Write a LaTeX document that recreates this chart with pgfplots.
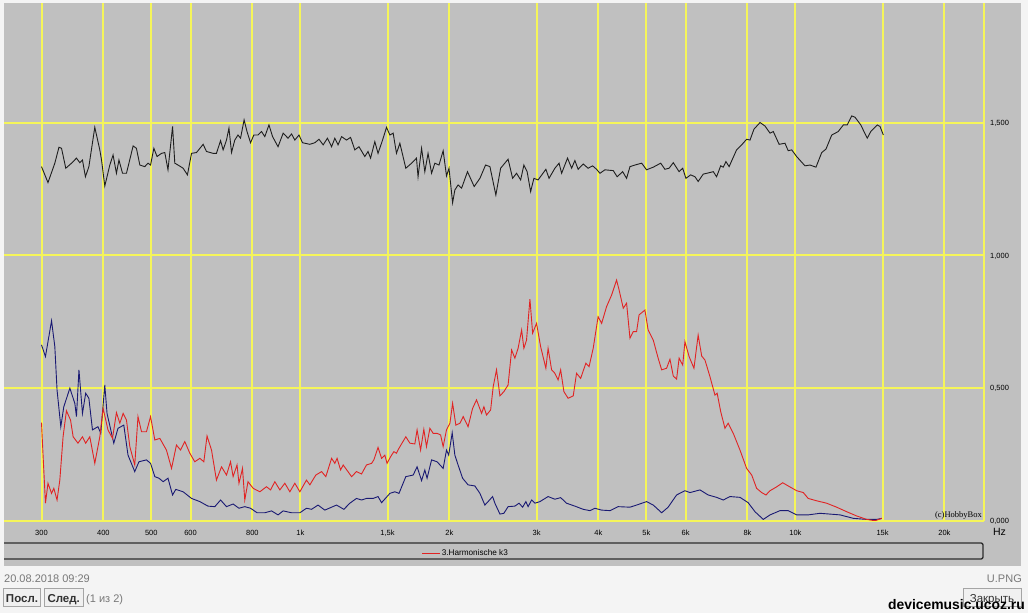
\documentclass[border=0pt]{standalone}
\usepackage{fontspec}
\setmainfont{Liberation Sans}
\newfontfamily\serifm{Liberation Serif}
\usepackage{pgfplots}
\pgfplotsset{compat=1.18}
\usepackage{pgfplotstable}
\definecolor{panel}{RGB}{192,192,192}
\definecolor{footbg}{RGB}{244,244,244}
\definecolor{gridy}{RGB}{245,245,90}
\definecolor{kblack}{RGB}{30,30,30}
\definecolor{kred}{RGB}{225,35,35}
\definecolor{kblue}{RGB}{25,25,115}
\definecolor{darkframe}{RGB}{45,45,45}
\definecolor{foottext}{RGB}{120,120,120}

\pgfplotstableread{
f v
300 1.334
309.2 1.274
319.2 1.347
325.4 1.407
329.3 1.403
335.9 1.328
345.0 1.347
353.0 1.366
358.5 1.349
363.0 1.359
368.0 1.296
374.0 1.334
384.4 1.482
393.5 1.397
396.6 1.359
402.7 1.261
412.2 1.340
418.5 1.378
425.1 1.309
430.1 1.359
437.3 1.309
445.4 1.309
459.4 1.412
466.5 1.403
474.0 1.340
485.0 1.334
492.3 1.347
498.2 1.340
505.9 1.403
513.5 1.372
524.3 1.384
532.3 1.387
540.3 1.322
551.9 1.485
557.7 1.347
566.1 1.340
579.7 1.328
591.4 1.303
602.8 1.384
616.8 1.387
636.3 1.418
646.2 1.391
666.5 1.384
676.9 1.384
690.0 1.432
698.3 1.397
709.2 1.434
717.5 1.479
726.1 1.387
737.2 1.434
748.3 1.453
757.2 1.441
769.8 1.510
780.4 1.466
793.3 1.424
805.4 1.453
821.3 1.453
834.8 1.466
847.6 1.447
864.2 1.491
878.7 1.447
901.4 1.409
923.1 1.460
944.3 1.441
959.9 1.457
974.6 1.434
993.6 1.453
1010 1.424
1045 1.418
1069.6 1.424
1090.5 1.437
1111.9 1.416
1134.3 1.441
1156.3 1.409
1173.9 1.441
1191.6 1.416
1211.3 1.447
1239.3 1.434
1263.0 1.444
1288.2 1.397
1313.4 1.409
1349.6 1.372
1369.9 1.391
1386.2 1.366
1413.9 1.428
1435.2 1.384
1465.7 1.434
1492.7 1.482
1516.5 1.453
1539.8 1.460
1563.8 1.384
1588.7 1.422
1633.2 1.328
1677.6 1.347
1716.3 1.366
1728.8 1.296
1757.4 1.403
1784.2 1.315
1811.1 1.384
1841.1 1.309
1869.3 1.347
1905.8 1.340
1943.2 1.394
1973.4 1.299
1996.6 1.328
2030.1 1.198
2051.5 1.246
2082.4 1.265
2116.9 1.253
2175.7 1.315
2244.3 1.259
2305.1 1.290
2366.4 1.340
2414.9 1.334
2482.5 1.227
2538.2 1.328
2627.8 1.362
2683.8 1.290
2733.1 1.309
2785.8 1.284
2828.2 1.340
2871.0 1.315
2918.5 1.240
2963.0 1.290
3021.5 1.284
3132.7 1.324
3179.4 1.290
3267.0 1.328
3330.8 1.347
3371.0 1.309
3464.7 1.366
3531.6 1.328
3585.5 1.357
3639.5 1.324
3727.3 1.344
3812.9 1.328
3894.1 1.337
3965.6 1.324
4028.8 1.309
4122.7 1.322
4285.6 1.319
4364.1 1.296
4477.3 1.315
4559.6 1.290
4632.2 1.334
4740.1 1.340
4891.1 1.347
5004.2 1.322
5162.2 1.332
5343.6 1.347
5450.1 1.324
5556.6 1.328
5665.6 1.349
5821.3 1.315
5919.2 1.328
6009.2 1.290
6144.0 1.303
6266.5 1.296
6360.8 1.278
6514.3 1.306
6693.3 1.311
6824.5 1.315
6930.7 1.296
7064.3 1.337
7149.5 1.332
7238.2 1.353
7346.0 1.334
7606.6 1.397
7788.9 1.416
7968.9 1.437
8095.8 1.434
8246.4 1.475
8481.4 1.500
8679.0 1.487
8885.3 1.460
9022.1 1.466
9270.0 1.418
9525.5 1.422
9668.8 1.394
9829.0 1.397
10056 1.372
10454 1.337
10703 1.340
11003 1.332
11301 1.387
11526 1.400
11839 1.453
12201 1.466
12496 1.491
12724 1.491
12994 1.525
13192 1.520
13551 1.491
13965 1.441
14196 1.466
14630 1.491
14823 1.485
15051 1.453
}\blackdata

\pgfplotstableread{
f v
300 0.663
305.6 0.619
314.4 0.754
319.2 0.656
322.5 0.493
328.2 0.355
332.8 0.430
342.3 0.500
350.3 0.443
353.0 0.393
357.1 0.569
363.0 0.405
368.5 0.481
374.0 0.462
380.3 0.343
390.1 0.355
395.3 0.330
402.7 0.512
406.9 0.405
419.9 0.293
428.2 0.349
439.9 0.361
448.6 0.248
462.9 0.186
472.0 0.223
488.8 0.230
498.2 0.217
508.2 0.167
518.1 0.161
528.2 0.148
540.3 0.161
551.9 0.098
560.3 0.119
579.7 0.110
602.8 0.085
626.6 0.073
650.8 0.056
671.7 0.054
690.0 0.079
709.2 0.054
731.5 0.064
751.6 0.048
772.3 0.054
793.3 0.048
817.6 0.031
847.6 0.031
874.7 0.038
901.4 0.023
923.1 0.038
959.9 0.031
997.7 0.031
1028.8 0.048
1053.5 0.044
1085.6 0.060
1120.5 0.041
1156.3 0.052
1183.0 0.060
1224.2 0.044
1258.9 0.067
1298.2 0.085
1329.3 0.079
1360.1 0.085
1403.0 0.085
1435.2 0.092
1458.9 0.069
1496.7 0.092
1516.5 0.104
1551.8 0.110
1582.2 0.104
1633.2 0.167
1690.0 0.173
1721.0 0.204
1757.4 0.152
1784.2 0.192
1802.9 0.161
1841.1 0.230
1888.8 0.223
1943.2 0.198
1973.4 0.267
1993.9 0.248
2026.3 0.332
2051.5 0.248
2082.4 0.211
2126.8 0.161
2181.6 0.136
2251.6 0.132
2305.1 0.104
2358.8 0.060
2394.3 0.073
2445.3 0.092
2471.2 0.067
2529.9 0.026
2577.0 0.029
2627.8 0.054
2712.2 0.056
2765.2 0.067
2811.6 0.052
2854.3 0.073
2884.1 0.054
2931.9 0.079
2976.7 0.067
3047.4 0.073
3165.3 0.092
3267.0 0.082
3355.6 0.088
3449.0 0.067
3585.5 0.056
3727.3 0.044
3845.6 0.039
3935.2 0.048
4060.6 0.041
4220.6 0.039
4383.9 0.054
4632.2 0.052
4776.7 0.060
5004.2 0.073
5162.2 0.060
5368.1 0.031
5532.1 0.052
5753.8 0.098
5981.7 0.114
6123.8 0.107
6415.5 0.117
6663.8 0.098
6930.7 0.089
7149.5 0.079
7376.5 0.092
7727.8 0.089
8026.9 0.069
8284.4 0.035
8612.0 0.006
8885.3 0.023
9308.6 0.039
9668.8 0.039
10056 0.023
10611 0.023
11212 0.029
11746 0.026
12306 0.023
13091 0.010
13927 0.006
14591 0.006
14940 0.010
}\bluedata

\pgfplotstableread{
f v
300 0.370
302.3 0.242
305.6 0.067
309.2 0.142
314.4 0.104
317.7 0.123
322.5 0.079
326.7 0.154
331.7 0.317
336.9 0.415
343.4 0.380
347.6 0.317
355.5 0.293
363.0 0.317
368.5 0.293
375.6 0.317
384.4 0.217
393.5 0.317
399.6 0.424
408.7 0.343
417.4 0.311
425.1 0.408
431.9 0.368
438.6 0.405
445.4 0.380
452.4 0.280
462.9 0.211
469.9 0.393
477.7 0.336
488.8 0.336
498.2 0.393
508.2 0.305
520.2 0.311
536.4 0.267
549.3 0.198
562.0 0.286
572.8 0.267
584.2 0.299
598.1 0.255
612.0 0.223
626.6 0.236
638.3 0.223
647.9 0.320
661.6 0.267
676.9 0.154
693.1 0.204
709.2 0.173
722.8 0.223
731.5 0.167
744.9 0.211
751.6 0.142
764.2 0.198
772.3 0.079
783.9 0.148
802.9 0.123
828.3 0.110
854.1 0.129
870.7 0.117
888.0 0.148
909.1 0.117
930.3 0.142
952.4 0.110
974.6 0.142
997.7 0.110
1028.8 0.154
1045.2 0.136
1074.5 0.173
1103.7 0.186
1125.7 0.167
1156.3 0.236
1173.9 0.217
1186.2 0.236
1205.8 0.192
1220.3 0.211
1268.9 0.167
1298.2 0.186
1329.3 0.177
1360.1 0.211
1392.6 0.217
1407.4 0.230
1435.2 0.277
1458.9 0.236
1481.2 0.248
1496.7 0.217
1521.5 0.242
1544.7 0.261
1563.8 0.255
1582.2 0.274
1633.2 0.317
1664.4 0.293
1703.2 0.290
1721.0 0.343
1749.4 0.267
1776.0 0.345
1798.0 0.280
1826.7 0.349
1854.8 0.330
1888.8 0.330
1920.0 0.324
1943.2 0.280
1973.4 0.343
2004.8 0.368
2030.1 0.443
2060.9 0.361
2100.3 0.368
2132.6 0.393
2181.6 0.355
2228.0 0.424
2269.0 0.456
2323.3 0.405
2348.0 0.430
2377.0 0.399
2422.9 0.418
2452.1 0.506
2490.2 0.569
2529.9 0.471
2577.0 0.487
2627.8 0.512
2671.4 0.644
2712.2 0.613
2753.0 0.650
2798.5 0.719
2828.2 0.650
2863.2 0.681
2908.9 0.835
2945.6 0.707
2999.7 0.744
3057.5 0.656
3132.7 0.575
3165.3 0.650
3217.8 0.569
3267.0 0.556
3316.2 0.531
3355.6 0.569
3406.8 0.487
3474.0 0.462
3557.9 0.471
3613.2 0.556
3682.9 0.537
3773.6 0.594
3829.7 0.581
3904.8 0.650
3994.4 0.769
4060.6 0.744
4154.5 0.807
4254.0 0.851
4352.3 0.907
4403.4 0.870
4489.7 0.801
4559.6 0.820
4632.2 0.688
4703.5 0.713
4776.7 0.713
4832.8 0.776
4965.9 0.794
5040.6 0.719
5162.2 0.681
5280.6 0.613
5368.1 0.569
5492.2 0.575
5579.7 0.609
5665.6 0.546
5753.8 0.534
5821.3 0.613
5919.2 0.587
5981.7 0.675
6098.6 0.619
6237.7 0.575
6360.8 0.700
6466.2 0.621
6565.0 0.606
6721.0 0.543
6877.6 0.474
6949.5 0.481
7064.3 0.412
7205.2 0.349
7313.6 0.368
7490.1 0.330
7727.8 0.267
7968.9 0.198
8159.8 0.173
8348.4 0.123
8548.4 0.107
8718.9 0.098
8885.3 0.114
9134.1 0.127
9425.9 0.144
9668.8 0.132
10056 0.114
10373 0.107
10611 0.085
11037 0.076
11562 0.067
12112 0.052
12690 0.035
13294 0.019
13927 0.006
14479 0.001
14940 0.010
}\reddata

\begin{document}
\begin{tikzpicture}
\path[use as bounding box, fill=footbg] (0bp,0bp) rectangle (1028bp,613bp);
\fill[panel] (4bp,47bp) rectangle (1021bp,610bp);
\draw[darkframe, line width=1.3bp, rounded corners=2bp] (4bp,70bp) -- (983bp,70bp) -- (983bp,54bp) -- (4bp,54bp);
\begin{axis}[
  at={(4bp,92bp)}, anchor=south west,
  scale only axis, width=980bp, height=518bp,
  xmode=log, xmin=252, xmax=24040, ymin=0, ymax=1.95,
  axis x line*=bottom, axis y line*=right,
  axis line style={gridy, line width=2bp, -},
  every outer x axis line/.append style={-},
  every outer y axis line/.append style={-},
  xtick={300,400,500,600,800,1000,1500,2000,3000,4000,5000,6000,8000,10000,15000,20000},
  xticklabels={300,400,500,600,800,1k,{1,5k},2k,3k,4k,5k,6k,8k,10k,15k,20k},
  ytick={0,0.5,1,1.5},
  yticklabels={{0,000},{0,500},{1,000},{1,500}},
  xminorticks=false, yminorticks=false,
  major tick length=0pt,
  grid=major, major grid style={gridy, line width=2bp},
  /pgf/number format/assume math mode=true,
  tick label style={font=\fontsize{7.5bp}{9bp}\selectfont, text=black, inner sep=0pt},
  xticklabel style={anchor=base, yshift=-14bp},
  yticklabel style={anchor=base west, xshift=6bp, yshift=-2.7bp},
  legend style={at={(axis description cs:0.4262,-0.0618)}, anchor=west, draw=none, fill=none, inner sep=0pt,
    font=\fontsize{8.2bp}{9bp}\selectfont, nodes={inner xsep=1bp, inner ysep=0pt}},
  legend image code/.code={\draw[#1] (0bp,0bp) -- (18bp,0bp);},
]
\addplot[kblack, line width=0.9bp, forget plot] table[x=f, y=v] {\blackdata};
\addplot[kblue, line width=0.9bp, forget plot] table[x=f, y=v] {\bluedata};
\addplot[kred, line width=0.9bp] table[x=f, y=v] {\reddata};
\addlegendentry{3.Harmonische k3}
\end{axis}
\node[anchor=base east, font=\serifm\fontsize{8.5bp}{10bp}\selectfont, inner sep=0pt] at (982bp,95bp) {(c)HobbyBox};
\node[anchor=base, font=\fontsize{10.5bp}{12bp}\selectfont, inner sep=0pt] at (999.5bp,77bp) {Hz};
% footer
\node[anchor=base west, text=foottext, font=\fontsize{11bp}{13bp}\selectfont, inner sep=0pt] at (4bp,31bp) {20.08.2018 09:29};
\node[anchor=base east, text=foottext, font=\fontsize{11bp}{13bp}\selectfont, inner sep=0pt] at (1022bp,31bp) {U.PNG};
\draw[fill={rgb,255:red,240;green,240;blue,240}, draw={rgb,255:red,165;green,165;blue,165}] (3.5bp,7bp) rectangle (40.5bp,25bp);
\node[anchor=base, font=\bfseries\fontsize{11.5bp}{13bp}\selectfont, text={rgb,255:red,50;green,50;blue,50}, inner sep=0pt] at (22bp,11bp) {Посл.};
\draw[fill={rgb,255:red,240;green,240;blue,240}, draw={rgb,255:red,165;green,165;blue,165}] (44.5bp,7bp) rectangle (83bp,25bp);
\node[anchor=base, font=\bfseries\fontsize{11.5bp}{13bp}\selectfont, text={rgb,255:red,50;green,50;blue,50}, inner sep=0pt] at (63.7bp,11bp) {След.};
\node[anchor=base west, text=foottext, font=\fontsize{11bp}{13bp}\selectfont, inner sep=0pt] at (86bp,11bp) {(1 из 2)};
\draw[fill={rgb,255:red,240;green,240;blue,240}, draw={rgb,255:red,165;green,165;blue,165}] (963bp,7bp) rectangle (1021bp,25bp);
\node[anchor=base, font=\fontsize{11.5bp}{13bp}\selectfont, text={rgb,255:red,50;green,50;blue,50}, inner sep=0pt] at (992bp,11bp) {Закрыть};
% watermark
\node[anchor=base east, font=\bfseries\fontsize{13.9bp}{15bp}\selectfont, text=black, inner sep=0pt] at (1025bp,3.5bp) {devicemusic.ucoz.ru};
\end{tikzpicture}
\end{document}
